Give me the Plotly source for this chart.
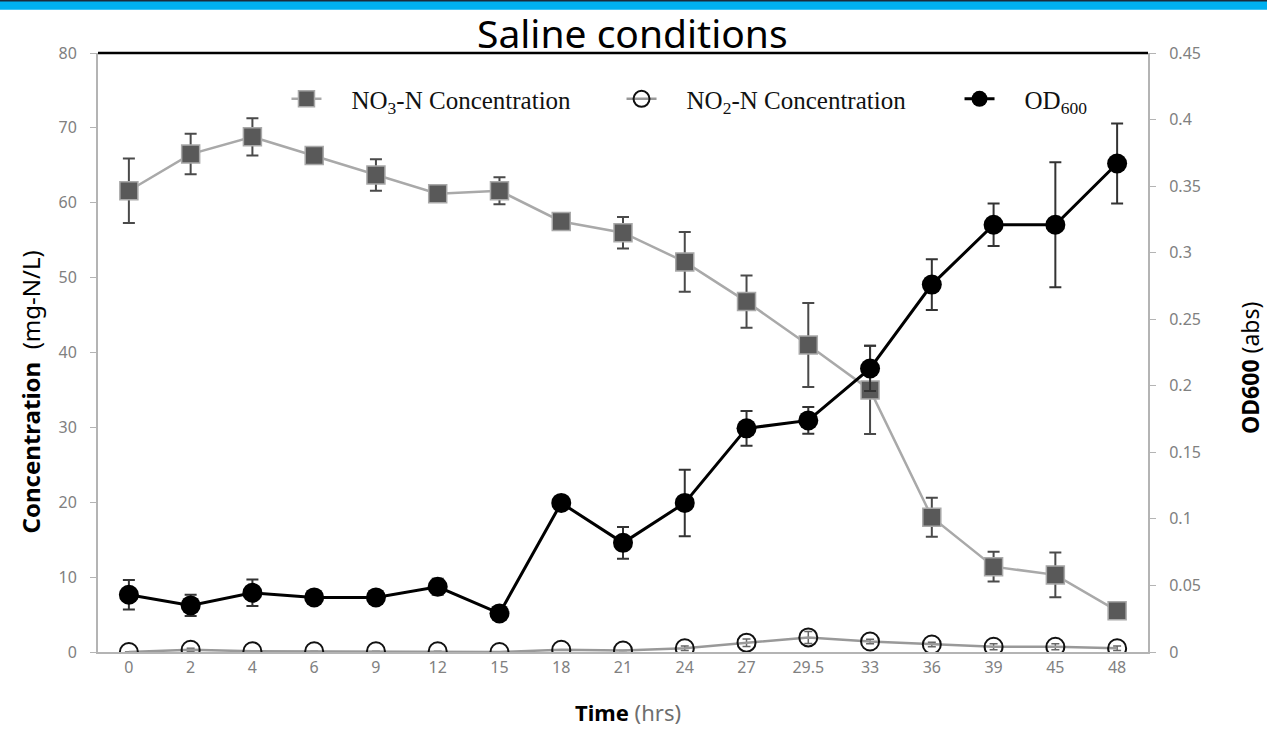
import plotly.graph_objects as go

# Sampling times (hours), shown as evenly spaced categories
time_labels = ["0", "2", "4", "6", "9", "12", "15", "18", "21", "24",
               "27", "29.5", "33", "36", "39", "45", "48"]

# NO3-N concentration (mg-N/L) and standard deviation
no3 = [61.6, 66.5, 68.8, 66.3, 63.7, 61.2, 61.6, 57.5, 56.0, 52.1,
       46.8, 41.0, 35.0, 18.0, 11.4, 10.3, 5.5]
no3_err = [4.3, 2.7, 2.5, 0, 2.1, 0, 1.8, 0, 2.1, 4.0,
           3.5, 5.6, 5.9, 2.6, 2.0, 3.0, 0]

# NO2-N concentration (mg-N/L) and standard deviation
no2 = [0.0, 0.3, 0.1, 0.1, 0.1, 0.1, 0.0, 0.3, 0.2, 0.5,
       1.25, 1.95, 1.4, 1.0, 0.7, 0.7, 0.5]
no2_err = [0, 0.2, 0, 0, 0, 0, 0, 0, 0, 0.3,
           0.5, 0.8, 0.3, 0.3, 0.4, 0.4, 0.3]

# Optical density at 600 nm (abs) and standard deviation
od600 = [0.043, 0.035, 0.0445, 0.041, 0.041, 0.049, 0.029, 0.112, 0.082, 0.112,
         0.168, 0.174, 0.213, 0.276, 0.321, 0.321, 0.367]
od600_err = [0.011, 0.008, 0.010, 0, 0, 0.006, 0, 0, 0.012, 0.025,
             0.013, 0.010, 0.017, 0.019, 0.016, 0.047, 0.030]

TICK_FONT = dict(family="Noto Sans", size=16, color="#808080")
AXIS_GRAY = "#b4b4b4"
GAP = "\u00a0" * 4  # extra room between legend symbol and label

fig = go.Figure()

fig.add_trace(go.Scatter(
    x=time_labels, y=no3, name=GAP + "NO<sub>3</sub>-N Concentration",
    mode="lines+markers",
    line=dict(color="#a9a9a9", width=2.5),
    marker=dict(symbol="square", size=18, color="#595959",
                line=dict(color="#a9a9a9", width=1.5)),
    error_y=dict(type="data", array=no3_err, visible=True,
                 color="#4a4a4a", thickness=2, width=6),
    legend="legend",
))

fig.add_trace(go.Scatter(
    x=time_labels, y=no2, name=GAP + "NO<sub>2</sub>-N Concentration",
    mode="lines+markers",
    line=dict(color="#999999", width=2.5),
    marker=dict(symbol="circle-open", size=18, color="#111111",
                line=dict(width=2)),
    error_y=dict(type="data", array=no2_err, visible=True,
                 color="#666666", thickness=1.5, width=4),
    legend="legend2",
))

fig.add_trace(go.Scatter(
    x=time_labels, y=od600, name=GAP + "OD<sub>600</sub>",
    mode="lines+markers", yaxis="y2",
    line=dict(color="#000000", width=3),
    marker=dict(symbol="circle", size=20, color="#000000"),
    error_y=dict(type="data", array=od600_err, visible=True,
                 color="#333333", thickness=2, width=6),
    legend="legend3",
))

legend_common = dict(
    orientation="h", yanchor="middle", y=0.923, xanchor="left",
    bgcolor="rgba(0,0,0,0)", borderwidth=0,
    font=dict(family="Liberation Serif", size=25, color="#111111"),
)


def label(text, x, y, size, angle=0, family="Noto Sans"):
    return dict(text=text, xref="paper", yref="paper", x=x, y=y,
                xanchor="center", yanchor="middle", showarrow=False,
                textangle=angle,
                font=dict(family=family, size=size, color="#000000"))


fig.update_layout(
    width=1267, height=729,
    margin=dict(l=98, r=119, t=53, b=77),
    paper_bgcolor="white", plot_bgcolor="white",
    showlegend=True,
    legend=dict(x=0.1795, **legend_common),
    legend2=dict(x=0.4986, **legend_common),
    legend3=dict(x=0.8205, **legend_common),
    xaxis=dict(
        type="category", range=[-0.5, 16.5],
        showline=True, linecolor=AXIS_GRAY, linewidth=2,
        ticks="", showgrid=False, zeroline=False,
        tickfont=TICK_FONT,
    ),
    yaxis=dict(
        range=[0, 80], dtick=10,
        showline=True, linecolor=AXIS_GRAY, linewidth=2,
        ticks="outside", ticklen=6, tickcolor=AXIS_GRAY,
        ticklabelstandoff=10,
        showgrid=False, zeroline=False, tickfont=TICK_FONT,
    ),
    yaxis2=dict(
        range=[0, 0.45], dtick=0.05, overlaying="y", side="right",
        showline=True, linecolor=AXIS_GRAY, linewidth=2,
        ticks="outside", ticklen=6, tickcolor=AXIS_GRAY,
        ticklabelstandoff=10,
        showgrid=False, zeroline=False, tickfont=TICK_FONT,
    ),
    shapes=[
        # header strip
        dict(type="rect", xref="paper", yref="paper",
             x0=-0.1, x1=1.2, y0=1.072, y1=1.0885,
             fillcolor="#00b0f0", line=dict(width=0), layer="above"),
        dict(type="line", xref="paper", yref="paper",
             x0=-0.1, x1=1.2, y0=1.0877, y1=1.0877,
             line=dict(color="#1c2a3a", width=2)),
        # top border of the plotting area
        dict(type="line", xref="paper", yref="paper",
             x0=0, x1=1, y0=1, y1=1,
             line=dict(color="#000000", width=2.5)),
    ],
    annotations=[
        label("Saline conditions", 0.5095, 1.035, 39),
        label("<b>Concentration</b>  (mg-N/L)", -0.0648, 0.435, 24, -90),
        label("<b>OD600</b> (abs)", 1.097, 0.474, 23, -90),
        label("<b>Time</b> <span style='color:#6e6e6e'>(hrs)</span>",
              0.5048, -0.1, 22),
    ],
)

fig.write_html("out.html")
